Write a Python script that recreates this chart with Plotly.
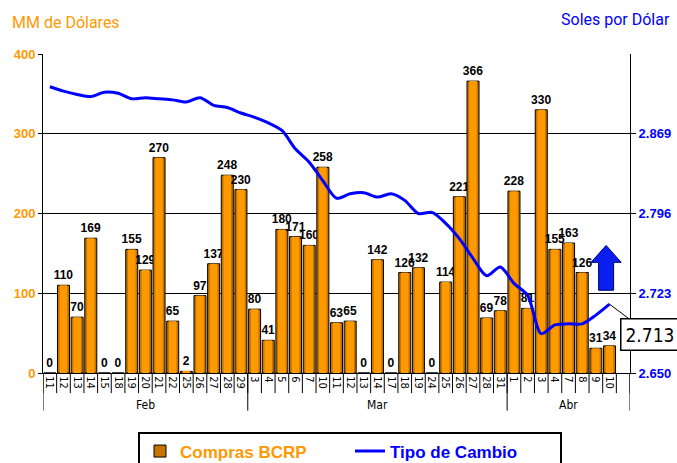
import plotly.graph_objects as go

# Daily categories (month, day)
months = (["Feb"] * 15) + (["Mar"] * 19) + (["Abr"] * 8)
days = ["11", "12", "13", "14", "15", "18", "19", "20", "21", "22", "25", "26", "27", "28", "29",
        "3", "4", "5", "6", "7", "10", "11", "12", "13", "14", "17", "18", "19", "24", "25", "26", "27", "28", "31",
        "1", "2", "3", "4", "7", "8", "9", "10"]

# BCRP purchases, millions of US dollars
compras = [0, 110, 70, 169, 0, 0, 155, 129, 270, 65, 2, 97, 137, 248, 230,
           80, 41, 180, 171, 160, 258, 63, 65, 0, 142, 0, 126, 132, 0, 114, 221, 366, 69, 78,
           228, 81, 330, 155, 163, 126, 31, 34]

# Exchange rate, soles per dollar
tipo_cambio = [2.912, 2.908, 2.905, 2.903, 2.907, 2.906, 2.901, 2.902, 2.901, 2.900, 2.898, 2.902, 2.895, 2.893, 2.888,
               2.884, 2.879, 2.872, 2.855, 2.843, 2.826, 2.810, 2.814, 2.815, 2.811, 2.814, 2.808, 2.796, 2.797, 2.787,
               2.773, 2.755, 2.739, 2.747, 2.732, 2.721, 2.686, 2.694, 2.695, 2.695, 2.703, 2.713]

left_ticks = [0, 100, 200, 300, 400]
right_ticks = [2.650, 2.723, 2.796, 2.869]
right_range = [2.650, 2.942]

ORANGE = "#FF9900"
BLUE = "#0000FF"
NARROW = "Liberation Sans Narrow, Arial Narrow, DejaVu Sans Condensed, Roboto Condensed, Liberation Sans, sans-serif"
TITLE = "Liberation Sans Narrow, Arial Narrow, Roboto, Liberation Sans, sans-serif"
SANS = "Liberation Sans, Arial, sans-serif"

n = len(days)
xs = list(range(n))
n_slots = n + 1  # one empty slot closes the last month group

fig = go.Figure()

# Bars: darker outer body with a brighter core for a shaded look
fig.add_trace(go.Bar(
    x=xs, y=compras, width=0.88,
    name="<b><span style='color:#FF9900'>Compras BCRP</span></b>",
    marker=dict(color="#C87400", line=dict(color="black", width=1)),
    text=[str(v) for v in compras], textposition="outside", constraintext="none",
    textfont=dict(family=SANS, size=12, color="black", weight="bold"),
    cliponaxis=False, hoverinfo="skip",
))
fig.add_trace(go.Bar(
    x=xs, y=compras, width=0.55, showlegend=False,
    marker=dict(color=ORANGE, line=dict(width=0)), hoverinfo="skip",
))

fig.add_trace(go.Scatter(
    x=xs, y=tipo_cambio, yaxis="y2", mode="lines",
    name="<b><span style='color:#0000FF'>Tipo de Cambio</span></b>",
    line=dict(color=BLUE, width=3, shape="spline", smoothing=0.8),
))

shapes = []
# category boundary ticks under the axis
for k in range(n_slots + 1):
    shapes.append(dict(type="line", xref="x", yref="paper", x0=k - 0.5, x1=k - 0.5,
                       y0=0, y1=-0.063, line=dict(color="black", width=1)))
# month group separators
bounds = [0] + [i for i in range(1, n) if months[i] != months[i - 1]] + [n_slots]
for b in bounds:
    shapes.append(dict(type="line", xref="x", yref="paper", x0=b - 0.5, x1=b - 0.5,
                       y0=0, y1=-0.118, line=dict(color="black", width=1)))

# blue "up" arrow
ax0, ax1, axm = 39.65, 41.85, 40.75
sx0, sx1 = 40.2, 41.3
shapes.append(dict(
    type="path", xref="x", yref="y",
    path=f"M {sx0} 103.75 L {sx0} 138.75 L {ax0} 138.75 L {axm} 160 L {ax1} 138.75 "
         f"L {sx1} 138.75 L {sx1} 103.75 Z",
    fillcolor="#0A1EF0", line=dict(color="#00006E", width=1),
))

annotations = []
# month labels
for gi in range(len(bounds) - 1):
    a, b = bounds[gi], bounds[gi + 1]
    annotations.append(dict(x=(a + b - 1) / 2, y=-0.1, xref="x", yref="paper",
                            text=months[a], showarrow=False, yanchor="middle",
                            font=dict(family=NARROW, size=12, color="black")))
annotations += [
    dict(x=-0.057, y=1.1, xref="paper", yref="paper", text="MM de Dólares", showarrow=False,
         xanchor="left", yanchor="middle",
         font=dict(family=TITLE, size=16, color=ORANGE)),
    dict(x=1.072, y=1.107, xref="paper", yref="paper", text="Soles por Dólar", showarrow=False,
         xanchor="right", yanchor="middle",
         font=dict(family=TITLE, size=16, color=BLUE)),
    dict(x=xs[-1], y=tipo_cambio[-1], xref="x", yref="y2", text=f"{tipo_cambio[-1]:.3f}",
         showarrow=True, arrowhead=0, arrowwidth=1, arrowcolor="black", ax=40, ay=30,
         bgcolor="white", bordercolor="black", borderwidth=1.5, borderpad=4,
         font=dict(family=NARROW, size=19, color="black")),
]

fig.update_layout(
    width=677, height=463,
    margin=dict(l=43, r=47, t=54, b=90, autoexpand=False),
    paper_bgcolor="white", plot_bgcolor="white",
    barmode="overlay",
    showlegend=True,
    legend=dict(orientation="h", x=0.523, xanchor="center",
                yref="container", y=0.068, yanchor="top",
                bordercolor="black", borderwidth=2, bgcolor="white",
                entrywidth=165, entrywidthmode="pixels",
                font=dict(family=SANS, size=17, color=ORANGE)),
    xaxis=dict(range=[-0.5, n_slots - 0.5], tickvals=xs, ticktext=days, tickangle=90,
               showgrid=False, zeroline=False, showline=True, linecolor="black", linewidth=1,
               ticks="", automargin=False,
               tickfont=dict(family=NARROW, size=11, color="black")),
    yaxis=dict(range=[0, 400], tickvals=left_ticks, showgrid=True, gridcolor="black", gridwidth=1,
               zeroline=False, showline=True, linecolor="black", linewidth=1,
               ticks="outside", ticklen=4, tickcolor="black", automargin=False,
               tickfont=dict(family=SANS, size=13, color=ORANGE, weight="bold")),
    yaxis2=dict(range=right_range, tickvals=right_ticks, ticktext=[f"{v:.3f}" for v in right_ticks],
                overlaying="y", side="right", showgrid=False, zeroline=False,
                showline=True, linecolor="black", linewidth=1, ticks="outside", ticklen=5,
                tickcolor="black", automargin=False,
                tickfont=dict(family=SANS, size=13, color=BLUE, weight="bold")),
    shapes=shapes,
    annotations=annotations,
)

fig.write_html("out.html")
